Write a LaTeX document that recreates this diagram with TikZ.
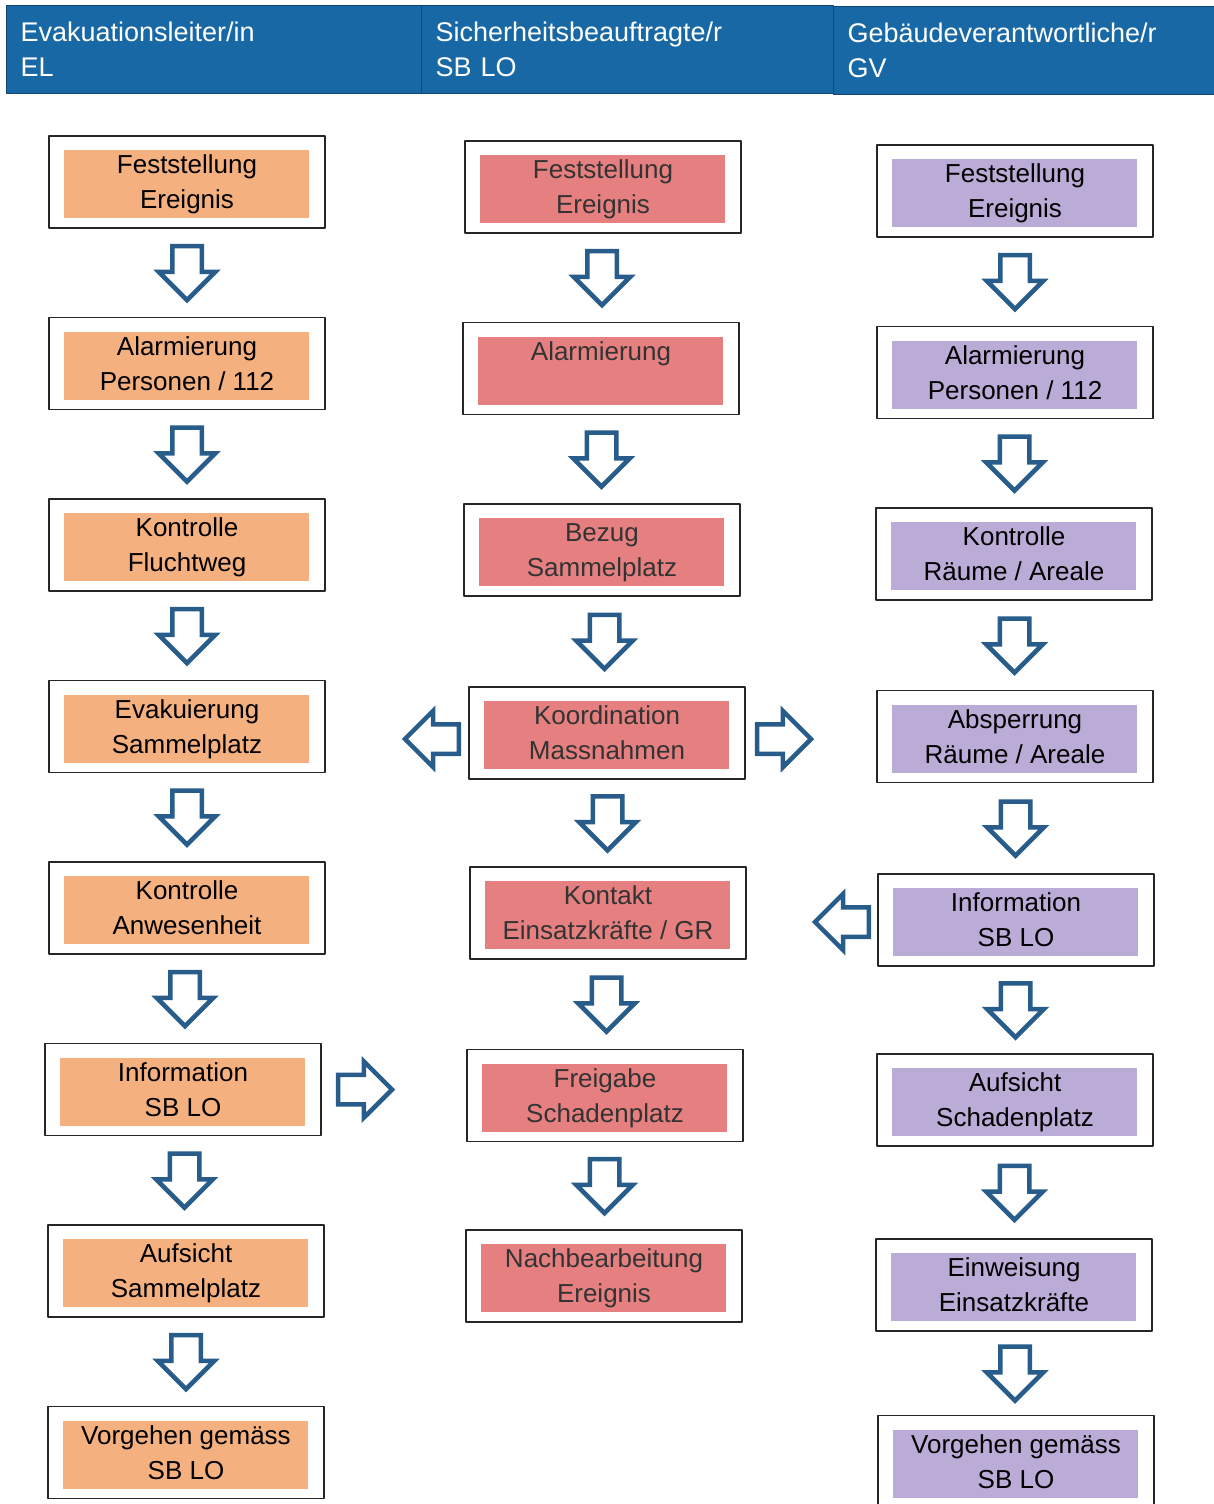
\documentclass[tikz,border=0pt]{standalone}
\usepackage{fontspec}
\setmainfont{Liberation Sans}
\usetikzlibrary{shapes.arrows}
\definecolor{headblue}{RGB}{24,104,166}
\definecolor{headline}{RGB}{18,70,115}
\definecolor{elfill}{RGB}{245,176,128}
\definecolor{sbfill}{RGB}{230,128,128}
\definecolor{gvfill}{RGB}{186,172,214}
\definecolor{arrowblue}{RGB}{40,92,138}

\begin{document}
\begin{tikzpicture}[line cap=round,line join=round,x=1pt,y=-1pt,
	headcell/.style={fill=headblue, draw=headline, line width=1.2pt, anchor=north west,
		minimum height=88pt, inner xsep=14pt, align=left, text=white,
		font=\fontsize{27}{35}\selectfont},
	taskbox/.style={draw=black!85, line width=1.6pt, fill=white, minimum width=276pt,
		minimum height=92pt, inner sep=0pt, text depth=0pt, align=center,
		font=\fontsize{26}{35}\selectfont,
		path picture={\fill[#1] ([shift={(15pt,-14pt)}]path picture bounding box.north west)
			rectangle ([shift={(-16pt,10pt)}]path picture bounding box.south east);}},
	blockarrow/.style={single arrow, draw=arrowblue, line width=4.5pt, fill=white,
		minimum height=54pt, inner xsep=0pt, inner ysep=12.5pt,
		single arrow head extend=13.5pt, line join=miter},
	arrowdown/.style={yshift=7pt, blockarrow, rotate=-90},
	arrowleft/.style={blockarrow, rotate=180},
	arrowright/.style={blockarrow}]
	\useasboundingbox (0,0) rectangle (1214,1504);
	% Kopfzeile
	\node[headcell, text width=387pt] (hEL) at (6,5) {Evakuationsleiter/in\\EL};
	\node[headcell, text width=384pt] (hSB) at (421,5) {Sicherheitsbeauftragte/r\\SB LO};
	\node[headcell, text width=353pt] (hGV) at (833,6) {Gebäudeverantwortliche/r\\GV};
	% Spalte EL
	\node[taskbox=elfill] (el1) at (187,182) {Feststellung\\Ereignis};
	\node[taskbox=elfill] (el2) at (187,363.5) {Alarmierung\\Personen / 112};
	\node[taskbox=elfill] (el3) at (187,545) {Kontrolle\\Fluchtweg};
	\node[taskbox=elfill] (el4) at (187,726.5) {Evakuierung\\Sammelplatz};
	\node[taskbox=elfill] (el5) at (187,908) {Kontrolle\\Anwesenheit};
	\node[taskbox=elfill] (el6) at (183,1089.5) {Information\\SB LO};
	\node[taskbox=elfill] (el7) at (186,1271) {Aufsicht\\Sammelplatz};
	\node[taskbox=elfill] (el8) at (186,1452.5) {Vorgehen gemäss\\SB LO};
	% Spalte SB LO
	\node[taskbox=sbfill, text=black!80] (sb1) at (603,187) {Feststellung\\Ereignis};
	\node[taskbox=sbfill, text=black!80] (sb2) at (601,368.5) {Alarmierung\\\phantom{Ereignis}};
	\node[taskbox=sbfill, text=black!80] (sb3) at (602,550) {Bezug\\Sammelplatz};
	\node[taskbox=sbfill, text=black!80] (sb4) at (607,733) {Koordination\\Massnahmen};
	\node[taskbox=sbfill, text=black!80] (sb5) at (608,913) {Kontakt\\Einsatzkräfte / GR};
	\node[taskbox=sbfill, text=black!80] (sb6) at (605,1095.5) {Freigabe\\Schadenplatz};
	\node[taskbox=sbfill, text=black!80] (sb7) at (604,1276) {Nachbearbeitung\\Ereignis};
	% Spalte GV
	\node[taskbox=gvfill] (gv1) at (1015,191) {Feststellung\\Ereignis};
	\node[taskbox=gvfill] (gv2) at (1015,372.5) {Alarmierung\\Personen / 112};
	\node[taskbox=gvfill] (gv3) at (1014,554) {Kontrolle\\Räume / Areale};
	\node[taskbox=gvfill] (gv4) at (1015,736.5) {Absperrung\\Räume / Areale};
	\node[taskbox=gvfill] (gv5) at (1016,920) {Information\\SB LO};
	\node[taskbox=gvfill] (gv6) at (1015,1100) {Aufsicht\\Schadenplatz};
	\node[taskbox=gvfill] (gv7) at (1014,1285) {Einweisung\\Einsatzkräfte};
	\node[taskbox=gvfill] (gv8) at (1016,1461.5) {Vorgehen gemäss\\SB LO};
	% Pfeile EL
	\path (el1) -- (el2) node[midway, arrowdown] (d-el1) {};
	\path (el2) -- (el3) node[midway, arrowdown] (d-el2) {};
	\path (el3) -- (el4) node[midway, arrowdown] (d-el3) {};
	\path (el4) -- (el5) node[midway, arrowdown] (d-el4) {};
	\path (el5) -- (el6) node[midway, arrowdown] (d-el5) {};
	\path (el6) -- (el7) node[midway, arrowdown] (d-el6) {};
	\path (el7) -- (el8) node[midway, arrowdown] (d-el7) {};
	% Pfeile SB LO
	\path (sb1) -- (sb2) node[midway, arrowdown] (d-sb1) {};
	\path (sb2) -- (sb3) node[midway, arrowdown] (d-sb2) {};
	\path (sb3) -- (sb4) node[midway, arrowdown] (d-sb3) {};
	\path (sb4) -- (sb5) node[midway, arrowdown] (d-sb4) {};
	\path (sb5) -- (sb6) node[midway, arrowdown] (d-sb5) {};
	\path (sb6) -- (sb7) node[midway, arrowdown] (d-sb6) {};
	% Pfeile GV
	\path (gv1) -- (gv2) node[midway, arrowdown] (d-gv1) {};
	\path (gv2) -- (gv3) node[midway, arrowdown] (d-gv2) {};
	\path (gv3) -- (gv4) node[midway, arrowdown] (d-gv3) {};
	\path (gv4) -- (gv5) node[midway, arrowdown] (d-gv4) {};
	\path (gv5) -- (gv6) node[midway, arrowdown] (d-gv5) {};
	\path (gv6) -- (gv7) node[midway, arrowdown] (d-gv6) {};
	\path (gv7) -- (gv8) node[midway, arrowdown] (d-gv7) {};
	% Querpfeile
	\node[arrowleft, anchor=tail] (sb-el) at ([xshift=-7pt,yshift=-6pt]sb4.west) {};
	\node[arrowright, anchor=tail] (sb-gv) at ([xshift=9pt,yshift=-6pt]sb4.east) {};
	\node[arrowleft, anchor=tail] (gv-sb) at ([xshift=-6pt,yshift=-2pt]gv5.west) {};
	\node[arrowright, anchor=tail] (el-sb) at ([xshift=14pt]el6.east) {};
\end{tikzpicture}
\end{document}
